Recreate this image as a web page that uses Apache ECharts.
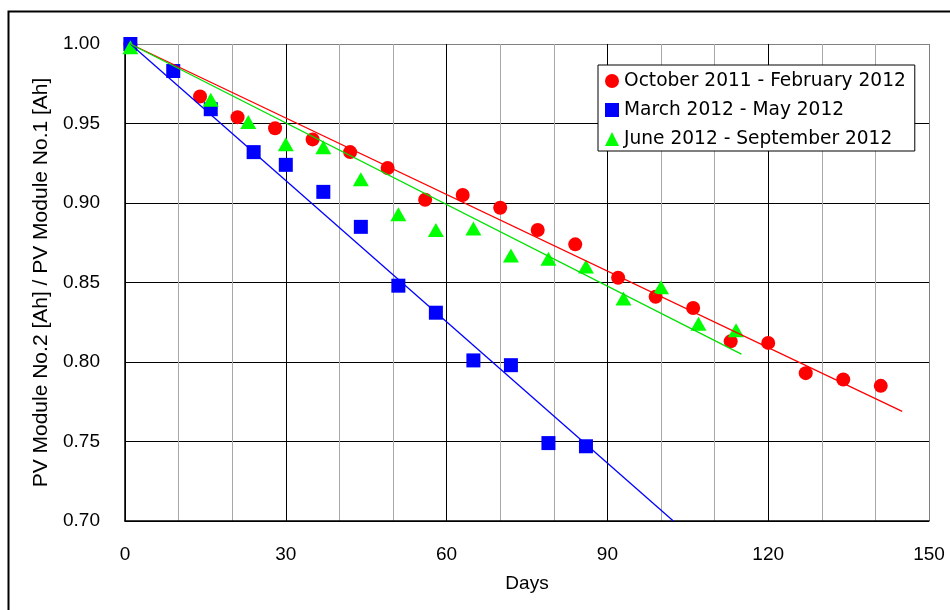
<!DOCTYPE html>
<html><head><meta charset="utf-8">
<script src="https://cdn.jsdelivr.net/npm/echarts@6/dist/echarts.min.js"></script>
<style>html,body{margin:0;padding:0;background:#fff}#c{width:950px;height:610px}</style>
</head><body><div id="c"></div>
<script>
const xTickLabels = [0, 30, 60, 90, 120, 150];
const yTickLabels = ['0.70', '0.75', '0.80', '0.85', '0.90', '0.95', '1.00'];

const seriesNames = ['October 2011 - February 2012', 'March 2012 - May 2012', 'June 2012 - September 2012'];

const redDays = [1, 14, 21, 28, 35, 42, 49, 56, 63, 70, 77, 84, 92, 99, 106, 113, 120, 127, 134, 141];
const redValues = [1.000, 0.967, 0.954, 0.947, 0.940, 0.932, 0.922, 0.902, 0.905, 0.897, 0.883, 0.874, 0.853, 0.841, 0.834, 0.813, 0.812, 0.793, 0.789, 0.785];

const blueDays = [1, 9, 16, 24, 30, 37, 44, 51, 58, 65, 72, 79, 86];
const blueValues = [1.000, 0.983, 0.959, 0.932, 0.924, 0.907, 0.885, 0.848, 0.831, 0.801, 0.798, 0.749, 0.747];

const greenDays = [1, 16, 23, 30, 37, 44, 51, 58, 65, 72, 79, 86, 93, 100, 107, 114];
const greenValues = [0.998, 0.965, 0.951, 0.937, 0.935, 0.915, 0.893, 0.883, 0.884, 0.867, 0.865, 0.860, 0.840, 0.847, 0.824, 0.820];

// trend line end points
const redTrendDays = [1, 145];
const redTrendValues = [1.000, 0.769];
const blueTrendDays = [1, 102.3];
const blueTrendValues = [1.000, 0.700];
const greenTrendDays = [1, 115];
const greenTrendValues = [1.000, 0.805];

const zip = (a, b) => a.map((v, i) => [v, b[i]]);
const FONT = 'Liberation Sans, Arial, sans-serif';

const chart = echarts.init(document.getElementById('c'), null, {renderer: 'canvas'});
chart.setOption({
  animation: false,
  backgroundColor: '#fff',
  grid: {left: 125, top: 44, right: 21, bottom: 89, containLabel: false},
  graphic: [{
    type: 'rect', silent: true, z: 0,
    shape: {x: 8.5, y: 11.5, width: 1000, height: 1000},
    style: {fill: 'none', stroke: '#000', lineWidth: 2}
  }],
  legend: {
    orient: 'vertical', left: 598, top: 65,
    padding: [5, 9, 1, 7], itemGap: 7, itemWidth: 14, itemHeight: 14,
    backgroundColor: '#fff', borderColor: '#000', borderWidth: 1,
    textStyle: {fontSize: 18.6, fontFamily: 'DejaVu Sans', color: '#000', lineHeight: 22},
    data: [
      {name: seriesNames[0], icon: 'circle'},
      {name: seriesNames[1], icon: 'rect'},
      {name: seriesNames[2], icon: 'triangle'}
    ]
  },
  xAxis: [{
    type: 'value', min: 0, max: 150, interval: 10, position: 'bottom',
    axisLine: {show: false}, axisTick: {show: false}, axisLabel: {show: false},
    splitLine: {show: true, lineStyle: {color: '#a8a8a8', width: 1}}
  }, {
    type: 'value', min: 0, max: 150, interval: 30, position: 'bottom',
    axisLine: {show: true, onZero: false, lineStyle: {color: '#000', width: 1.5}},
    axisTick: {show: false},
    axisLabel: {fontSize: 19, color: '#000', margin: 24, fontFamily: FONT,
      formatter: v => String(xTickLabels[xTickLabels.indexOf(v)] ?? v)},
    splitLine: {show: true, lineStyle: {color: ['#000', '#000', '#000', '#000', '#000', '#808080'], width: 1}},
    name: 'Days', nameLocation: 'middle', nameGap: 53,
    nameTextStyle: {fontSize: 19, color: '#000', fontFamily: FONT}
  }],
  yAxis: {
    type: 'value', min: 0.70, max: 1.00, interval: 0.05,
    axisLine: {show: true, lineStyle: {color: '#000', width: 1.5}},
    axisTick: {show: false},
    axisLabel: {fontSize: 19, color: '#000', margin: 25, fontFamily: FONT,
      formatter: v => yTickLabels[Math.round((v - 0.70) / 0.05)]},
    splitLine: {show: true, lineStyle: {color: ['#000', '#000', '#000', '#000', '#000', '#000', '#808080'], width: 1}},
    name: 'PV Module No.2 [Ah] / PV Module No.1 [Ah]', nameLocation: 'middle', nameGap: 67,
    nameTextStyle: {fontSize: 21, color: '#000', fontFamily: FONT}
  },
  series: [
    {name: seriesNames[0], type: 'scatter', xAxisIndex: 1, symbol: 'circle', symbolSize: 14,
      itemStyle: {color: '#ff0000', opacity: 1}, data: zip(redDays, redValues), z: 3},
    {name: seriesNames[1], type: 'scatter', xAxisIndex: 1, symbol: 'rect', symbolSize: 14,
      itemStyle: {color: '#0000ff', opacity: 1}, data: zip(blueDays, blueValues), z: 4},
    {name: seriesNames[2], type: 'scatter', xAxisIndex: 1, symbol: 'triangle', symbolSize: [16, 14],
      itemStyle: {color: '#00ff00', opacity: 1}, data: zip(greenDays, greenValues), z: 5},
    {type: 'line', xAxisIndex: 1, data: zip(redTrendDays, redTrendValues), symbol: 'none',
      lineStyle: {color: '#ff0000', width: 1.3}, z: 6, silent: true},
    {type: 'line', xAxisIndex: 1, data: zip(blueTrendDays, blueTrendValues), symbol: 'none',
      lineStyle: {color: '#0000ff', width: 1.3}, z: 6, silent: true},
    {type: 'line', xAxisIndex: 1, data: zip(greenTrendDays, greenTrendValues), symbol: 'none',
      lineStyle: {color: '#00e000', width: 1.3}, z: 6, silent: true}
  ]
});
</script></body></html>
